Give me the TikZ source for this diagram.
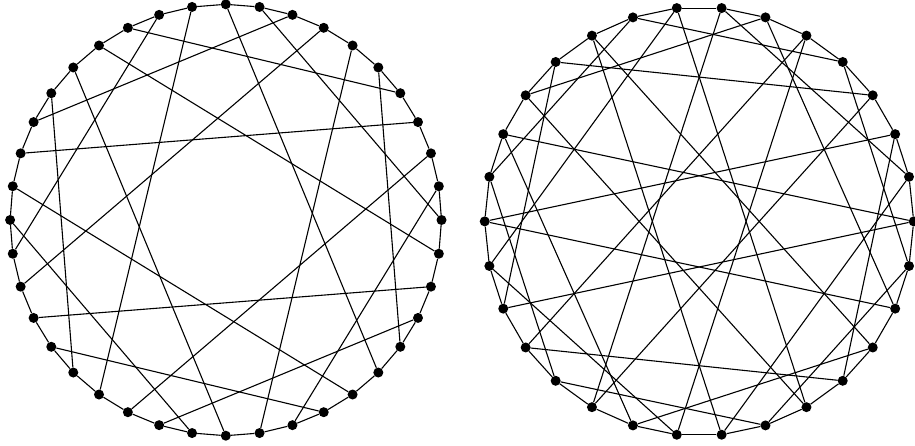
\documentclass[tikz,border=0pt]{standalone}
\usepackage{tikz}

\begin{document}
\begin{tikzpicture}[x=1pt,y=1pt,
   vtx/.style={circle,fill=black,inner sep=0pt,minimum size=10pt},
   edg/.style={line width=1.1pt}]
  \useasboundingbox (0,0) rectangle (915,445);
  % left graph, 40 vertices
  \begin{scope}[shift={(225.8,225)}]
    \foreach \k in {0,...,39}
      \node[vtx] (L\k) at ({90-9*\k}:215.7) {};
  \end{scope}
  \foreach \k in {0,...,39} {
    \pgfmathtruncatemacro\nx{mod(\k+1,40)}
    \draw[edg] (L\k) -- (L\nx);
  }
  \foreach \k in {0,4,...,36} {
    \pgfmathtruncatemacro\ka{mod(\k+15,40)}
    \pgfmathtruncatemacro\kb{\k+1}
    \pgfmathtruncatemacro\kc{mod(\k+10,40)}
    \draw[edg] (L\k) -- (L\ka);
    \draw[edg] (L\kb) -- (L\kc);
  }
  % right graph, 30 vertices
  \begin{scope}[shift={(699.2,223.6)}]
    \foreach \j in {0,...,29}
      \node[vtx] (R\j) at ({84-12*\j}:214.5) {};
  \end{scope}
  \foreach \j in {0,...,29} {
    \pgfmathtruncatemacro\nx{mod(\j+1,30)}
    \draw[edg] (R\j) -- (R\nx);
  }
  \foreach \i in {0,5,...,25} {
    \pgfmathtruncatemacro\ia{mod(\i+6,30)}
    \pgfmathtruncatemacro\ib{mod(\i+17,30)}
    \pgfmathtruncatemacro\ic{\i+1}
    \pgfmathtruncatemacro\id{mod(\i+9,30)}
    \pgfmathtruncatemacro\ie{\i+4}
    \pgfmathtruncatemacro\iff{\i+3}
    \pgfmathtruncatemacro\ig{mod(\i+8,30)}
    \draw[edg] (R\i) -- (R\ia);
    \draw[edg] (R\i) -- (R\ib);
    \draw[edg] (R\ic) -- (R\id);
    \draw[edg] (R\ie) -- (R\ib);
    \draw[edg] (R\iff) -- (R\ig);
  }
\end{tikzpicture}
\end{document}
